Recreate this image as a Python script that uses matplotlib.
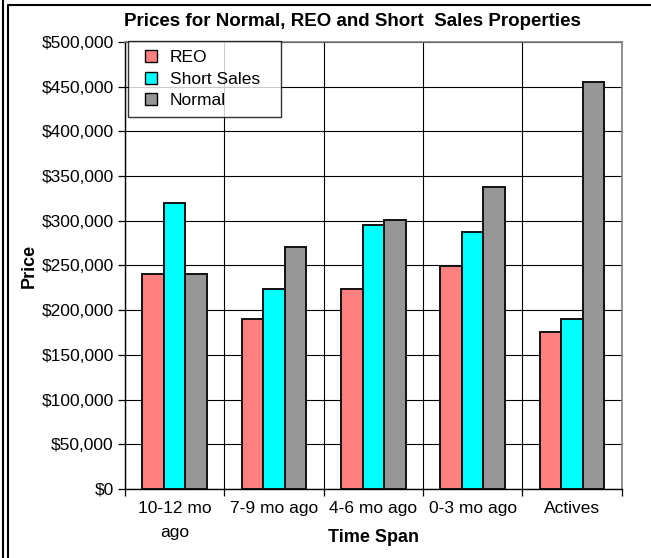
import numpy as np
import matplotlib
matplotlib.use('Agg')
from matplotlib import pyplot as plt
from matplotlib.lines import Line2D
from matplotlib.ticker import FuncFormatter, MultipleLocator

plt.rcParams['font.family'] = ['Liberation Sans', 'DejaVu Sans']

# data
categories = ['10-12 mo\nago', '7-9 mo ago', '4-6 mo ago', '0-3 mo ago', 'Actives']
reo = [240000, 190000, 224000, 249000, 176000]
short_sales = [320000, 224000, 295000, 287000, 190000]
normal = [240000, 271000, 301000, 338000, 455000]

series = [('REO', reo, '#FF8080'),
          ('Short Sales', short_sales, '#00FFFF'),
          ('Normal', normal, '#969696')]

fig = plt.figure(figsize=(6.51, 5.58), dpi=100)
ax = fig.add_axes([0.192, 0.1237, 0.763, 0.801])

x = np.arange(len(categories))
w = 0.217
for i, (name, vals, col) in enumerate(series):
    ax.bar(x + (i - 1) * w, vals, w, color=col, edgecolor='#111111',
           linewidth=1.4, label=name, zorder=3)

ax.set_xlim(-0.5, len(categories) - 0.5)
ax.set_ylim(0, 500000)
ax.yaxis.set_major_locator(MultipleLocator(50000))
ax.yaxis.set_major_formatter(FuncFormatter(lambda v, p: '${:,.0f}'.format(v)))

# gridlines: horizontal at each tick, vertical between categories
ax.set_xticks(np.arange(len(categories) + 1) - 0.5)
ax.set_xticklabels([])
ax.grid(True, axis='both', color='black', linewidth=0.8, zorder=0)
ax.set_axisbelow(True)
for xi, lab in zip(x, categories):
    ax.text(xi, -0.028, lab, transform=ax.get_xaxis_transform(),
            ha='center', va='top', fontsize=12.5, linespacing=1.7)

ax.tick_params(axis='y', direction='out', length=5, width=0.9, labelsize=12.5,
               pad=3)
ax.tick_params(axis='x', direction='out', length=5, width=0.9)
for s in ['left', 'bottom']:
    ax.spines[s].set_color('black')
    ax.spines[s].set_linewidth(1.0)
for s in ['top', 'right']:
    ax.spines[s].set_color('#808080')
    ax.spines[s].set_linewidth(1.2)

ax.set_ylabel('Price', fontsize=13, fontweight='bold')
ax.yaxis.set_label_coords(-0.176, 0.5)
fig.text(0.573, 0.037, 'Time Span', ha='center', va='center',
         fontsize=13, fontweight='bold')
fig.text(0.542, 0.961, 'Prices for Normal, REO and Short  Sales Properties',
         ha='center', va='center', fontsize=13.5, fontweight='bold')

# legend with square markers, box stretched to the reference width
handles = [Line2D([], [], marker='s', linestyle='none', markersize=8,
                  markerfacecolor=col, markeredgecolor='black',
                  markeredgewidth=1.0) for _, _, col in series]
labels = [name for name, _, _ in series]
leg = ax.legend(handles, labels, loc='upper left', mode='expand',
                bbox_to_anchor=(0.006, 1.002, 0.308, 0), fontsize=12.5,
                frameon=True, fancybox=False, edgecolor='black',
                handlelength=1.6, handletextpad=0.3,
                labelspacing=0.38, borderpad=0.5, borderaxespad=0)
leg.get_frame().set_linewidth(1.0)
leg.set_zorder(5)

# outer chart frame
fig.add_artist(Line2D([3 / 651, 3 / 651], [0, 1], color='black', lw=1.5))
fig.add_artist(Line2D([8 / 651, 8 / 651, 1], [0, 1 - 5 / 558, 1 - 5 / 558],
                      color='black', lw=1.5))

plt.savefig('out.png', dpi=100)
